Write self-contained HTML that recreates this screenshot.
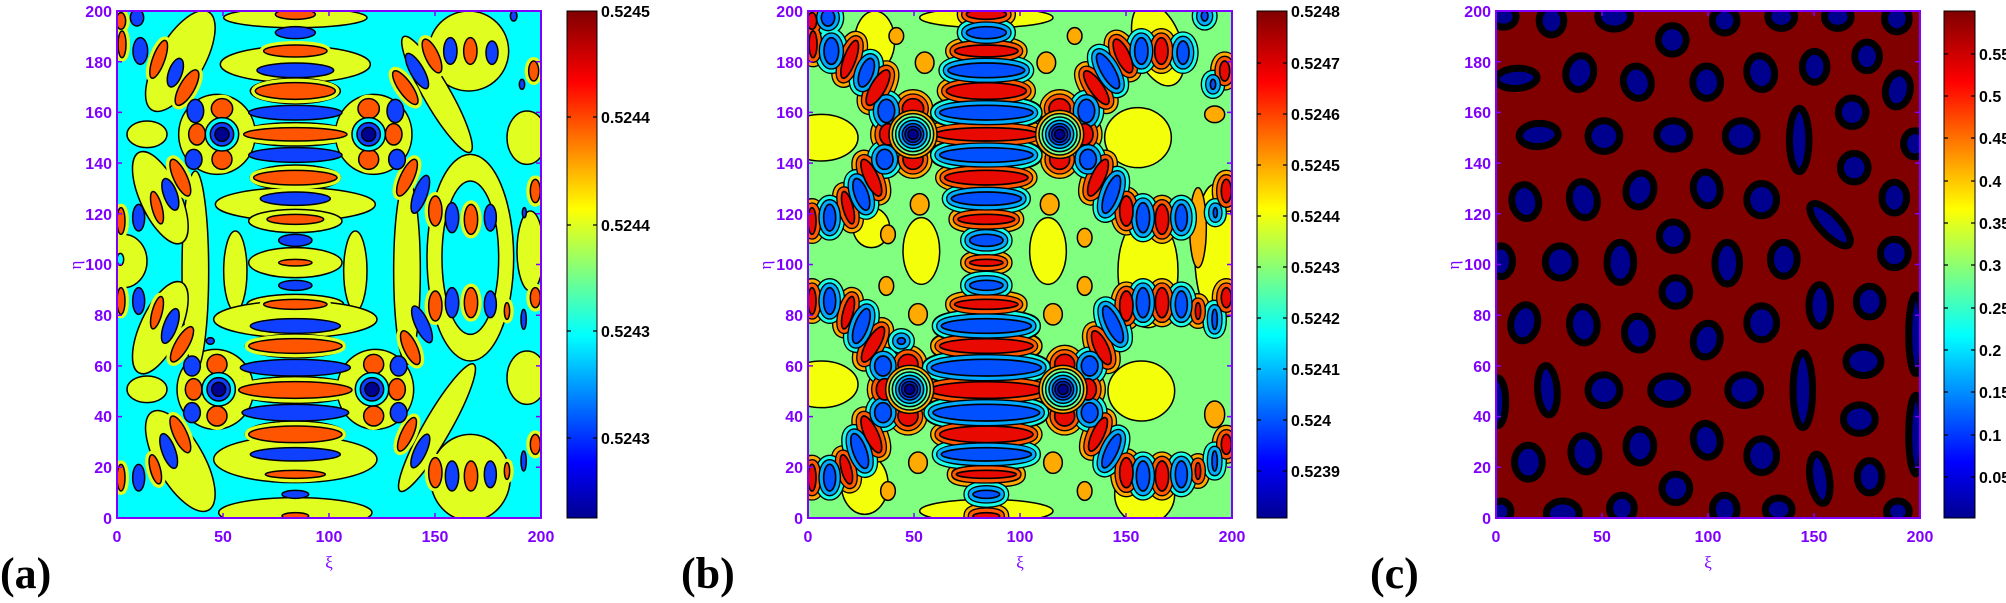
<!DOCTYPE html>
<html><head><meta charset="utf-8"><style>
html,body{margin:0;padding:0;background:#fff;width:2006px;height:603px;overflow:hidden}
svg{display:block}
.tk{font-family:"Liberation Sans",sans-serif;font-weight:bold;font-size:16px;fill:#7f00ff}
.cb{font-family:"Liberation Sans",sans-serif;font-weight:bold;font-size:16px;fill:#000}
.pl{font-family:"Liberation Serif",serif;font-weight:bold;font-size:44px;fill:#000}
.gl{font-family:"Liberation Serif","DejaVu Serif",serif;font-size:17px;fill:#7f00ff}
</style></head><body>
<svg width="2006" height="603" viewBox="0 0 2006 603" xmlns="http://www.w3.org/2000/svg" xmlns:xlink="http://www.w3.org/1999/xlink">
<defs>
<linearGradient id="jet" x1="0" y1="1" x2="0" y2="0">
<stop offset="0" stop-color="#00008f"/><stop offset="0.11" stop-color="#0000ff"/><stop offset="0.36" stop-color="#00ffff"/><stop offset="0.61" stop-color="#ffff00"/><stop offset="0.86" stop-color="#ff0000"/><stop offset="1" stop-color="#800000"/>
</linearGradient>
<g id="ob">
<ellipse cx="535" cy="10" rx="60" ry="15"/><ellipse cx="535" cy="120" rx="95" ry="18"/><ellipse cx="535" cy="240" rx="120" ry="25"/><ellipse cx="535" cy="370" rx="155" ry="20"/><ellipse cx="535" cy="500" rx="125" ry="22"/><ellipse cx="535" cy="625" rx="85" ry="15"/><ellipse cx="535" cy="755" rx="50" ry="10"/><ellipse cx="535" cy="880" rx="95" ry="15"/><ellipse cx="535" cy="1005" rx="140" ry="22"/><ellipse cx="535" cy="1137" rx="170" ry="25"/><ellipse cx="535" cy="1270" rx="140" ry="25"/><ellipse cx="535" cy="1390" rx="90" ry="12"/><ellipse cx="535" cy="1515" rx="40" ry="10"/>
<ellipse cx="12" cy="30" rx="14" ry="25"/><ellipse cx="15" cy="100" rx="12" ry="40"/><ellipse cx="125" cy="145" rx="18" ry="60" transform="rotate(20 125 145)"/><ellipse cx="210" cy="230" rx="22" ry="60" transform="rotate(30 210 230)"/><ellipse cx="190" cy="500" rx="20" ry="60" transform="rotate(-25 190 500)"/><ellipse cx="120" cy="590" rx="15" ry="50" transform="rotate(-15 120 590)"/><ellipse cx="12" cy="630" rx="12" ry="40"/><ellipse cx="12" cy="870" rx="12" ry="40"/><ellipse cx="120" cy="905" rx="15" ry="50" transform="rotate(15 120 905)"/><ellipse cx="195" cy="1000" rx="20" ry="60" transform="rotate(30 195 1000)"/><ellipse cx="190" cy="1270" rx="20" ry="60" transform="rotate(-25 190 1270)"/><ellipse cx="115" cy="1375" rx="15" ry="45" transform="rotate(-15 115 1375)"/><ellipse cx="12" cy="1400" rx="12" ry="40"/>
<ellipse cx="945" cy="135" rx="20" ry="55" transform="rotate(-25 945 135)"/><ellipse cx="865" cy="230" rx="20" ry="60" transform="rotate(-35 865 230)"/><ellipse cx="1060" cy="120" rx="20" ry="40"/><ellipse cx="1250" cy="180" rx="15" ry="30"/><ellipse cx="870" cy="500" rx="20" ry="60" transform="rotate(25 870 500)"/><ellipse cx="955" cy="600" rx="20" ry="45"/><ellipse cx="1062" cy="625" rx="20" ry="45"/><ellipse cx="1255" cy="540" rx="15" ry="35"/><ellipse cx="955" cy="885" rx="20" ry="45"/><ellipse cx="1062" cy="875" rx="20" ry="45"/><ellipse cx="1170" cy="900" rx="8" ry="25"/><ellipse cx="1255" cy="860" rx="15" ry="30"/><ellipse cx="880" cy="1010" rx="20" ry="55" transform="rotate(-25 880 1010)"/><ellipse cx="870" cy="1270" rx="18" ry="55" transform="rotate(25 870 1270)"/><ellipse cx="955" cy="1385" rx="20" ry="45"/><ellipse cx="1062" cy="1395" rx="20" ry="45"/><ellipse cx="1170" cy="1380" rx="8" ry="25"/><ellipse cx="1255" cy="1300" rx="15" ry="30"/>
<ellipse cx="315" cy="293" rx="32" ry="30"/><ellipse cx="315" cy="445" rx="30" ry="30"/><ellipse cx="240" cy="370" rx="25" ry="32"/><ellipse cx="755" cy="293" rx="32" ry="30"/><ellipse cx="755" cy="445" rx="30" ry="30"/><ellipse cx="830" cy="370" rx="25" ry="32"/><ellipse cx="300" cy="1060" rx="30" ry="30"/><ellipse cx="300" cy="1215" rx="30" ry="30"/><ellipse cx="230" cy="1135" rx="25" ry="32"/><ellipse cx="770" cy="1060" rx="30" ry="30"/><ellipse cx="770" cy="1215" rx="30" ry="30"/><ellipse cx="840" cy="1135" rx="25" ry="32"/>
</g>
<g id="bb">
<ellipse cx="535" cy="65" rx="60" ry="18"/><ellipse cx="535" cy="178" rx="115" ry="22"/><ellipse cx="535" cy="305" rx="140" ry="22"/><ellipse cx="535" cy="432" rx="140" ry="22"/><ellipse cx="535" cy="563" rx="105" ry="20"/><ellipse cx="535" cy="688" rx="50" ry="18"/><ellipse cx="535" cy="823" rx="50" ry="15"/><ellipse cx="535" cy="945" rx="135" ry="22"/><ellipse cx="535" cy="1070" rx="165" ry="25"/><ellipse cx="535" cy="1205" rx="160" ry="25"/><ellipse cx="535" cy="1330" rx="135" ry="20"/><ellipse cx="535" cy="1450" rx="40" ry="12"/>
<ellipse cx="60" cy="20" rx="20" ry="25"/><ellipse cx="70" cy="120" rx="22" ry="40"/><ellipse cx="175" cy="185" rx="20" ry="45" transform="rotate(20 175 185)"/><ellipse cx="160" cy="550" rx="20" ry="50" transform="rotate(-20 160 550)"/><ellipse cx="65" cy="620" rx="18" ry="40"/><ellipse cx="65" cy="870" rx="18" ry="40"/><ellipse cx="160" cy="945" rx="20" ry="55" transform="rotate(20 160 945)"/><ellipse cx="155" cy="1320" rx="20" ry="55" transform="rotate(-20 155 1320)"/><ellipse cx="65" cy="1400" rx="18" ry="40"/><ellipse cx="280" cy="990" rx="12" ry="10"/>
<ellipse cx="900" cy="180" rx="20" ry="60" transform="rotate(-30 900 180)"/><ellipse cx="1000" cy="120" rx="20" ry="40"/><ellipse cx="1125" cy="125" rx="18" ry="35"/><ellipse cx="1190" cy="15" rx="10" ry="15"/><ellipse cx="1215" cy="220" rx="8" ry="15"/><ellipse cx="910" cy="550" rx="20" ry="60" transform="rotate(20 910 550)"/><ellipse cx="1005" cy="620" rx="20" ry="45"/><ellipse cx="1120" cy="620" rx="18" ry="40"/><ellipse cx="1222" cy="605" rx="6" ry="15"/><ellipse cx="1005" cy="875" rx="20" ry="45"/><ellipse cx="1120" cy="880" rx="18" ry="40"/><ellipse cx="1220" cy="925" rx="8" ry="30"/><ellipse cx="915" cy="940" rx="20" ry="60" transform="rotate(-25 915 940)"/><ellipse cx="910" cy="1320" rx="18" ry="55" transform="rotate(25 910 1320)"/><ellipse cx="1005" cy="1395" rx="20" ry="45"/><ellipse cx="1120" cy="1390" rx="18" ry="40"/><ellipse cx="1220" cy="1350" rx="8" ry="30"/>
<ellipse cx="235" cy="300" rx="25" ry="35"/><ellipse cx="230" cy="445" rx="25" ry="30"/><ellipse cx="835" cy="300" rx="25" ry="35"/><ellipse cx="840" cy="445" rx="25" ry="30"/><ellipse cx="225" cy="1065" rx="25" ry="30"/><ellipse cx="225" cy="1205" rx="25" ry="30"/><ellipse cx="845" cy="1065" rx="25" ry="30"/><ellipse cx="845" cy="1205" rx="25" ry="30"/>
</g>
</defs>

<!-- Panel A -->
<svg x="117" y="11" width="424" height="507" viewBox="0 0 1272 1521">
<rect width="1272" height="1521" fill="#00ffff"/>
<g fill="#e0ff20" stroke="#000" stroke-width="4.5">
<ellipse cx="535" cy="20" rx="215" ry="30"/><ellipse cx="535" cy="160" rx="225" ry="55"/><ellipse cx="535" cy="240" rx="135" ry="38"/><ellipse cx="535" cy="370" rx="170" ry="35"/><ellipse cx="535" cy="500" rx="135" ry="38"/><ellipse cx="535" cy="580" rx="240" ry="50"/><ellipse cx="535" cy="630" rx="140" ry="35"/><ellipse cx="535" cy="755" rx="140" ry="45"/><ellipse cx="355" cy="780" rx="35" ry="120"/><ellipse cx="715" cy="780" rx="35" ry="120"/><ellipse cx="535" cy="880" rx="145" ry="30"/><ellipse cx="535" cy="925" rx="245" ry="55"/><ellipse cx="535" cy="1005" rx="150" ry="35"/><ellipse cx="535" cy="1137" rx="185" ry="40"/><ellipse cx="535" cy="1270" rx="150" ry="40"/><ellipse cx="535" cy="1345" rx="245" ry="70"/><ellipse cx="535" cy="1505" rx="230" ry="45"/>
<ellipse cx="300" cy="370" rx="115" ry="120"/><ellipse cx="770" cy="370" rx="115" ry="120"/><ellipse cx="295" cy="1135" rx="115" ry="120"/><ellipse cx="775" cy="1135" rx="115" ry="120"/>
<ellipse cx="235" cy="780" rx="40" ry="300"/><ellipse cx="20" cy="750" rx="70" ry="80"/><ellipse cx="870" cy="780" rx="40" ry="280"/>
<ellipse cx="1060" cy="740" rx="130" ry="310"/>
<ellipse cx="1055" cy="120" rx="120" ry="120"/><ellipse cx="1060" cy="1400" rx="120" ry="130"/>
<ellipse cx="960" cy="250" rx="40" ry="200" transform="rotate(-30 960 250)"/><ellipse cx="960" cy="1250" rx="40" ry="220" transform="rotate(30 960 1250)"/>
<ellipse cx="1230" cy="380" rx="60" ry="80"/><ellipse cx="1230" cy="1100" rx="60" ry="80"/><ellipse cx="1240" cy="720" rx="40" ry="120"/>
<ellipse cx="190" cy="150" rx="70" ry="170" transform="rotate(30 190 150)"/><ellipse cx="190" cy="1350" rx="70" ry="170" transform="rotate(-30 190 1350)"/>
<ellipse cx="130" cy="560" rx="60" ry="150" transform="rotate(-25 130 560)"/><ellipse cx="130" cy="950" rx="60" ry="150" transform="rotate(25 130 950)"/>
<ellipse cx="90" cy="370" rx="60" ry="40"/><ellipse cx="90" cy="1135" rx="60" ry="40"/>
</g>
<ellipse cx="1060" cy="740" rx="85" ry="230" fill="#00ffff" stroke="#000" stroke-width="4.5"/>
<ellipse cx="10" cy="745" rx="10" ry="18" fill="#00ffff" stroke="#000" stroke-width="4.5"/>
<use xlink:href="#ob" fill="#e0ff20" stroke="#e0ff20" stroke-width="24"/>
<use xlink:href="#ob" fill="#ff5500" stroke="#000" stroke-width="4.5"/>
<use xlink:href="#bb" fill="#1040ff" stroke="#000" stroke-width="4.5"/>
<g stroke="#000" stroke-width="4.5">
<g fill="#00ffff"><circle cx="315" cy="370" r="50"/><circle cx="755" cy="370" r="50"/><circle cx="305" cy="1135" r="50"/><circle cx="765" cy="1135" r="50"/></g>
<g fill="#1040ff"><circle cx="315" cy="370" r="35"/><circle cx="755" cy="370" r="35"/><circle cx="305" cy="1135" r="35"/><circle cx="765" cy="1135" r="35"/></g>
<g fill="#00008f"><circle cx="315" cy="370" r="21"/><circle cx="755" cy="370" r="21"/><circle cx="305" cy="1135" r="21"/><circle cx="765" cy="1135" r="21"/></g>
</g>
</svg>

<!-- Panel B -->
<svg x="808" y="11" width="424" height="507" viewBox="0 0 1272 1521">
<rect width="1272" height="1521" fill="#80ff80"/>
<g fill="#f4ff0a" stroke="#000" stroke-width="4.5">
<ellipse cx="40" cy="380" rx="110" ry="70"/><ellipse cx="40" cy="1120" rx="110" ry="70"/><ellipse cx="340" cy="720" rx="55" ry="100"/><ellipse cx="720" cy="720" rx="55" ry="100"/><ellipse cx="990" cy="380" rx="100" ry="90"/><ellipse cx="1020" cy="780" rx="90" ry="170"/><ellipse cx="1000" cy="1140" rx="100" ry="90"/><ellipse cx="1050" cy="100" rx="70" ry="130" transform="rotate(-20 1050 100)"/><ellipse cx="1010" cy="1450" rx="90" ry="90"/><ellipse cx="200" cy="90" rx="60" ry="90"/><ellipse cx="190" cy="650" rx="55" ry="60"/><ellipse cx="170" cy="1420" rx="70" ry="90"/><ellipse cx="1220" cy="720" rx="60" ry="200"/><ellipse cx="535" cy="20" rx="200" ry="30"/><ellipse cx="535" cy="1500" rx="200" ry="35"/>
</g>
<g fill="#ffaa00" stroke="#000" stroke-width="4.5">
<ellipse cx="350" cy="155" rx="28" ry="32"/><ellipse cx="715" cy="155" rx="28" ry="32"/><ellipse cx="335" cy="580" rx="28" ry="32"/><ellipse cx="725" cy="580" rx="28" ry="32"/><ellipse cx="240" cy="670" rx="22" ry="28"/><ellipse cx="830" cy="680" rx="22" ry="28"/><ellipse cx="235" cy="825" rx="22" ry="28"/><ellipse cx="830" cy="825" rx="22" ry="28"/><ellipse cx="330" cy="910" rx="28" ry="32"/><ellipse cx="735" cy="910" rx="28" ry="32"/><ellipse cx="330" cy="1355" rx="28" ry="32"/><ellipse cx="735" cy="1355" rx="28" ry="32"/><ellipse cx="265" cy="75" rx="22" ry="25"/><ellipse cx="800" cy="75" rx="22" ry="25"/><ellipse cx="240" cy="1440" rx="22" ry="28"/><ellipse cx="830" cy="1440" rx="22" ry="28"/><ellipse cx="1220" cy="310" rx="30" ry="25"/><ellipse cx="1220" cy="1210" rx="30" ry="40"/><ellipse cx="1170" cy="650" rx="25" ry="120"/>
</g>
<use xlink:href="#ob" fill="#000" stroke="#000" stroke-width="58"/>
<use xlink:href="#ob" fill="#ffaa00" stroke="#ffaa00" stroke-width="50"/>
<use xlink:href="#bb" fill="#000" stroke="#000" stroke-width="58"/>
<use xlink:href="#bb" fill="#1affe5" stroke="#1affe5" stroke-width="50"/>
<use xlink:href="#ob" fill="#000" stroke="#000" stroke-width="32"/>
<use xlink:href="#ob" fill="#ff5a00" stroke="#ff5a00" stroke-width="24"/>
<use xlink:href="#bb" fill="#000" stroke="#000" stroke-width="32"/>
<use xlink:href="#bb" fill="#00aaff" stroke="#00aaff" stroke-width="24"/>
<use xlink:href="#ob" fill="#e80a00" stroke="#000" stroke-width="5"/>
<use xlink:href="#bb" fill="#0050ff" stroke="#000" stroke-width="5"/>
<g stroke="#000" stroke-width="4.5">
<g fill="#ffaa00"><circle cx="315" cy="370" r="72"/><circle cx="755" cy="370" r="72"/><circle cx="305" cy="1135" r="72"/><circle cx="765" cy="1135" r="72"/></g>
<g fill="#80ff80"><circle cx="315" cy="370" r="62"/><circle cx="755" cy="370" r="62"/><circle cx="305" cy="1135" r="62"/><circle cx="765" cy="1135" r="62"/></g>
<g fill="#1affe5"><circle cx="315" cy="370" r="52"/><circle cx="755" cy="370" r="52"/><circle cx="305" cy="1135" r="52"/><circle cx="765" cy="1135" r="52"/></g>
<g fill="#00aaff"><circle cx="315" cy="370" r="42"/><circle cx="755" cy="370" r="42"/><circle cx="305" cy="1135" r="42"/><circle cx="765" cy="1135" r="42"/></g>
<g fill="#0050ff"><circle cx="315" cy="370" r="32"/><circle cx="755" cy="370" r="32"/><circle cx="305" cy="1135" r="32"/><circle cx="765" cy="1135" r="32"/></g>
<g fill="#0020c0"><circle cx="315" cy="370" r="24"/><circle cx="755" cy="370" r="24"/><circle cx="305" cy="1135" r="24"/><circle cx="765" cy="1135" r="24"/></g>
<g fill="#00008f"><circle cx="315" cy="370" r="15"/><circle cx="755" cy="370" r="15"/><circle cx="305" cy="1135" r="15"/><circle cx="765" cy="1135" r="15"/></g>
</g>
</svg>

<!-- Panel C -->
<svg x="1496" y="11" width="424" height="507" viewBox="575 30 825 1317" preserveAspectRatio="none">
<rect x="575" y="30" width="825" height="1317" fill="#800000"/>
<g fill="#00008f" stroke="#000" stroke-width="7">
<ellipse vector-effect="non-scaling-stroke" cx="590" cy="45" rx="24" ry="27"/><ellipse vector-effect="non-scaling-stroke" cx="683" cy="55" rx="24" ry="37"/><ellipse vector-effect="non-scaling-stroke" cx="805" cy="45" rx="32" ry="32"/><ellipse vector-effect="non-scaling-stroke" cx="1020" cy="55" rx="24" ry="32"/><ellipse vector-effect="non-scaling-stroke" cx="1130" cy="45" rx="26" ry="30"/><ellipse vector-effect="non-scaling-stroke" cx="1240" cy="45" rx="26" ry="30"/><ellipse vector-effect="non-scaling-stroke" cx="1355" cy="50" rx="24" ry="34"/>
<ellipse vector-effect="non-scaling-stroke" cx="918" cy="105" rx="27" ry="37"/>
<ellipse vector-effect="non-scaling-stroke" cx="615" cy="205" rx="40" ry="26" transform="rotate(-6 615 205)"/><ellipse vector-effect="non-scaling-stroke" cx="738" cy="190" rx="27" ry="44" transform="rotate(6 738 190)"/><ellipse vector-effect="non-scaling-stroke" cx="850" cy="215" rx="27" ry="42" transform="rotate(-6 850 215)"/><ellipse vector-effect="non-scaling-stroke" cx="985" cy="215" rx="27" ry="42"/><ellipse vector-effect="non-scaling-stroke" cx="1090" cy="190" rx="27" ry="44" transform="rotate(-5 1090 190)"/><ellipse vector-effect="non-scaling-stroke" cx="1195" cy="175" rx="24" ry="40"/><ellipse vector-effect="non-scaling-stroke" cx="1297" cy="148" rx="24" ry="37"/><ellipse vector-effect="non-scaling-stroke" cx="1357" cy="235" rx="24" ry="44" transform="rotate(6 1357 235)"/>
<ellipse vector-effect="non-scaling-stroke" cx="658" cy="352" rx="38" ry="30" transform="rotate(-8 658 352)"/><ellipse vector-effect="non-scaling-stroke" cx="785" cy="355" rx="31" ry="40"/><ellipse vector-effect="non-scaling-stroke" cx="920" cy="352" rx="32" ry="37"/><ellipse vector-effect="non-scaling-stroke" cx="1052" cy="355" rx="31" ry="40"/><ellipse vector-effect="non-scaling-stroke" cx="1165" cy="365" rx="19" ry="82"/><ellipse vector-effect="non-scaling-stroke" cx="1268" cy="293" rx="27" ry="37"/><ellipse vector-effect="non-scaling-stroke" cx="1390" cy="375" rx="22" ry="34"/><ellipse vector-effect="non-scaling-stroke" cx="1272" cy="437" rx="27" ry="37"/>
<ellipse vector-effect="non-scaling-stroke" cx="632" cy="525" rx="26" ry="44" transform="rotate(-5 632 525)"/><ellipse vector-effect="non-scaling-stroke" cx="745" cy="520" rx="27" ry="47" transform="rotate(-6 745 520)"/><ellipse vector-effect="non-scaling-stroke" cx="855" cy="495" rx="27" ry="44" transform="rotate(6 855 495)"/><ellipse vector-effect="non-scaling-stroke" cx="985" cy="492" rx="26" ry="44" transform="rotate(-5 985 492)"/><ellipse vector-effect="non-scaling-stroke" cx="1092" cy="520" rx="29" ry="42"/><ellipse vector-effect="non-scaling-stroke" cx="1225" cy="585" rx="64" ry="22" transform="rotate(57 1225 585)"/><ellipse vector-effect="non-scaling-stroke" cx="1350" cy="515" rx="24" ry="40"/>
<ellipse vector-effect="non-scaling-stroke" cx="920" cy="615" rx="27" ry="37"/>
<ellipse vector-effect="non-scaling-stroke" cx="585" cy="680" rx="22" ry="40"/><ellipse vector-effect="non-scaling-stroke" cx="700" cy="682" rx="29" ry="42"/><ellipse vector-effect="non-scaling-stroke" cx="817" cy="683" rx="26" ry="52"/><ellipse vector-effect="non-scaling-stroke" cx="1025" cy="685" rx="24" ry="54"/><ellipse vector-effect="non-scaling-stroke" cx="1135" cy="675" rx="26" ry="44"/><ellipse vector-effect="non-scaling-stroke" cx="1350" cy="660" rx="27" ry="37"/>
<ellipse vector-effect="non-scaling-stroke" cx="925" cy="760" rx="27" ry="37"/>
<ellipse vector-effect="non-scaling-stroke" cx="630" cy="840" rx="26" ry="47" transform="rotate(6 630 840)"/><ellipse vector-effect="non-scaling-stroke" cx="745" cy="845" rx="27" ry="47" transform="rotate(-3 745 845)"/><ellipse vector-effect="non-scaling-stroke" cx="852" cy="867" rx="27" ry="44" transform="rotate(-3 852 867)"/><ellipse vector-effect="non-scaling-stroke" cx="985" cy="885" rx="26" ry="44" transform="rotate(6 985 885)"/><ellipse vector-effect="non-scaling-stroke" cx="1092" cy="840" rx="29" ry="44"/><ellipse vector-effect="non-scaling-stroke" cx="1205" cy="795" rx="21" ry="54"/><ellipse vector-effect="non-scaling-stroke" cx="1302" cy="785" rx="26" ry="40"/><ellipse vector-effect="non-scaling-stroke" cx="1392" cy="870" rx="14" ry="102"/>
<ellipse vector-effect="non-scaling-stroke" cx="578" cy="1045" rx="16" ry="62"/><ellipse vector-effect="non-scaling-stroke" cx="675" cy="1015" rx="19" ry="64" transform="rotate(-3 675 1015)"/><ellipse vector-effect="non-scaling-stroke" cx="785" cy="1015" rx="31" ry="40"/><ellipse vector-effect="non-scaling-stroke" cx="912" cy="1015" rx="36" ry="37"/><ellipse vector-effect="non-scaling-stroke" cx="1058" cy="1015" rx="32" ry="40"/><ellipse vector-effect="non-scaling-stroke" cx="1172" cy="1015" rx="19" ry="97"/><ellipse vector-effect="non-scaling-stroke" cx="1290" cy="940" rx="34" ry="37"/><ellipse vector-effect="non-scaling-stroke" cx="1282" cy="1090" rx="31" ry="37"/><ellipse vector-effect="non-scaling-stroke" cx="1392" cy="1130" rx="14" ry="102"/>
<ellipse vector-effect="non-scaling-stroke" cx="638" cy="1202" rx="27" ry="44"/><ellipse vector-effect="non-scaling-stroke" cx="748" cy="1180" rx="27" ry="47" transform="rotate(-5 748 1180)"/><ellipse vector-effect="non-scaling-stroke" cx="855" cy="1160" rx="27" ry="44"/><ellipse vector-effect="non-scaling-stroke" cx="985" cy="1145" rx="26" ry="44" transform="rotate(-5 985 1145)"/><ellipse vector-effect="non-scaling-stroke" cx="1092" cy="1185" rx="29" ry="44"/><ellipse vector-effect="non-scaling-stroke" cx="1205" cy="1245" rx="19" ry="64" transform="rotate(-6 1205 1245)"/><ellipse vector-effect="non-scaling-stroke" cx="1302" cy="1240" rx="24" ry="42"/>
<ellipse vector-effect="non-scaling-stroke" cx="925" cy="1270" rx="27" ry="37"/>
<ellipse vector-effect="non-scaling-stroke" cx="585" cy="1330" rx="19" ry="27"/><ellipse vector-effect="non-scaling-stroke" cx="705" cy="1335" rx="32" ry="32"/><ellipse vector-effect="non-scaling-stroke" cx="820" cy="1322" rx="24" ry="34"/><ellipse vector-effect="non-scaling-stroke" cx="1020" cy="1325" rx="24" ry="37"/><ellipse vector-effect="non-scaling-stroke" cx="1125" cy="1325" rx="26" ry="30"/><ellipse vector-effect="non-scaling-stroke" cx="1357" cy="1330" rx="22" ry="27"/>
</g>
</svg>

<!-- frames and ticks -->
<g fill="none" stroke="#7f00ff" stroke-width="2">
<rect x="117" y="11" width="424" height="507"/>
<rect x="808" y="11" width="424" height="507"/>
<rect x="1496" y="11" width="424" height="507"/>
</g>
<g stroke="#7f00ff" stroke-width="1.5">
<path d="M223 518v-5M329 518v-5M435 518v-5M223 11v5M329 11v5M435 11v5M117 467.3h5M117 416.6h5M117 365.9h5M117 315.2h5M117 264.5h5M117 213.8h5M117 163.1h5M117 112.4h5M117 61.7h5M541 467.3h-5M541 416.6h-5M541 365.9h-5M541 315.2h-5M541 264.5h-5M541 213.8h-5M541 163.1h-5M541 112.4h-5M541 61.7h-5"/>
<path transform="translate(691 0)" d="M223 518v-5M329 518v-5M435 518v-5M223 11v5M329 11v5M435 11v5M117 467.3h5M117 416.6h5M117 365.9h5M117 315.2h5M117 264.5h5M117 213.8h5M117 163.1h5M117 112.4h5M117 61.7h5M541 467.3h-5M541 416.6h-5M541 365.9h-5M541 315.2h-5M541 264.5h-5M541 213.8h-5M541 163.1h-5M541 112.4h-5M541 61.7h-5"/>
<path transform="translate(1379 0)" d="M223 518v-5M329 518v-5M435 518v-5M223 11v5M329 11v5M435 11v5M117 467.3h5M117 416.6h5M117 365.9h5M117 315.2h5M117 264.5h5M117 213.8h5M117 163.1h5M117 112.4h5M117 61.7h5M541 467.3h-5M541 416.6h-5M541 365.9h-5M541 315.2h-5M541 264.5h-5M541 213.8h-5M541 163.1h-5M541 112.4h-5M541 61.7h-5"/>
</g>

<!-- colorbars -->
<rect x="567" y="11" width="30" height="507" fill="url(#jet)" stroke="#000" stroke-width="1"/>
<rect x="1257" y="11" width="30" height="507" fill="url(#jet)" stroke="#000" stroke-width="1"/>
<rect x="1944" y="11" width="31" height="507" fill="url(#jet)" stroke="#000" stroke-width="1"/>
<g stroke="#000" stroke-width="1.2">
<path d="M567 117h4M597 117h-4M567 225h4M597 225h-4M567 331h4M597 331h-4M567 438h4M597 438h-4"/>
<path d="M1257 63h4M1287 63h-4M1257 114h4M1287 114h-4M1257 165h4M1287 165h-4M1257 216h4M1287 216h-4M1257 267h4M1287 267h-4M1257 318h4M1287 318h-4M1257 369h4M1287 369h-4M1257 420h4M1287 420h-4M1257 471h4M1287 471h-4"/>
<path d="M1944 54h4M1975 54h-4M1944 96h4M1975 96h-4M1944 138h4M1975 138h-4M1944 181h4M1975 181h-4M1944 223h4M1975 223h-4M1944 265h4M1975 265h-4M1944 308h4M1975 308h-4M1944 350h4M1975 350h-4M1944 392h4M1975 392h-4M1944 435h4M1975 435h-4M1944 477h4M1975 477h-4"/>
</g>
<g class="cb">
<text x="601" y="17">0.5245</text><text x="601" y="123">0.5244</text><text x="601" y="231">0.5244</text><text x="601" y="337">0.5243</text><text x="601" y="444">0.5243</text>
<text x="1291" y="17">0.5248</text><text x="1291" y="69">0.5247</text><text x="1291" y="120">0.5246</text><text x="1291" y="171">0.5245</text><text x="1291" y="222">0.5244</text><text x="1291" y="273">0.5243</text><text x="1291" y="324">0.5242</text><text x="1291" y="375">0.5241</text><text x="1291" y="426">0.524</text><text x="1291" y="477">0.5239</text>
<text x="1979" y="60">0.55</text><text x="1979" y="102">0.5</text><text x="1979" y="144">0.45</text><text x="1979" y="187">0.4</text><text x="1979" y="229">0.35</text><text x="1979" y="271">0.3</text><text x="1979" y="314">0.25</text><text x="1979" y="356">0.2</text><text x="1979" y="398">0.15</text><text x="1979" y="441">0.1</text><text x="1979" y="483">0.05</text>
</g>

<!-- tick labels -->
<g class="tk" text-anchor="middle">
<text x="117" y="542">0</text><text x="223" y="542">50</text><text x="329" y="542">100</text><text x="435" y="542">150</text><text x="541" y="542">200</text>
<text x="808" y="542">0</text><text x="914" y="542">50</text><text x="1020" y="542">100</text><text x="1126" y="542">150</text><text x="1232" y="542">200</text>
<text x="1496" y="542">0</text><text x="1602" y="542">50</text><text x="1708" y="542">100</text><text x="1814" y="542">150</text><text x="1920" y="542">200</text>
</g>
<g class="tk" text-anchor="end">
<text x="112" y="524">0</text><text x="112" y="473">20</text><text x="112" y="422">40</text><text x="112" y="372">60</text><text x="112" y="321">80</text><text x="112" y="270">100</text><text x="112" y="220">120</text><text x="112" y="169">140</text><text x="112" y="118">160</text><text x="112" y="68">180</text><text x="112" y="17">200</text>
<text x="803" y="524">0</text><text x="803" y="473">20</text><text x="803" y="422">40</text><text x="803" y="372">60</text><text x="803" y="321">80</text><text x="803" y="270">100</text><text x="803" y="220">120</text><text x="803" y="169">140</text><text x="803" y="118">160</text><text x="803" y="68">180</text><text x="803" y="17">200</text>
<text x="1491" y="524">0</text><text x="1491" y="473">20</text><text x="1491" y="422">40</text><text x="1491" y="372">60</text><text x="1491" y="321">80</text><text x="1491" y="270">100</text><text x="1491" y="220">120</text><text x="1491" y="169">140</text><text x="1491" y="118">160</text><text x="1491" y="68">180</text><text x="1491" y="17">200</text>
</g>
<g class="gl" text-anchor="middle">
<text x="329" y="568">ξ</text><text x="1020" y="568">ξ</text><text x="1708" y="568">ξ</text>
<text transform="translate(81 265) rotate(-90)">η</text>
<text transform="translate(771 265) rotate(-90)">η</text>
<text transform="translate(1459 265) rotate(-90)">η</text>
</g>
<g class="pl">
<text x="0" y="588">(a)</text><text x="681" y="588">(b)</text><text x="1370" y="588">(c)</text>
</g>
</svg>
</body></html>
